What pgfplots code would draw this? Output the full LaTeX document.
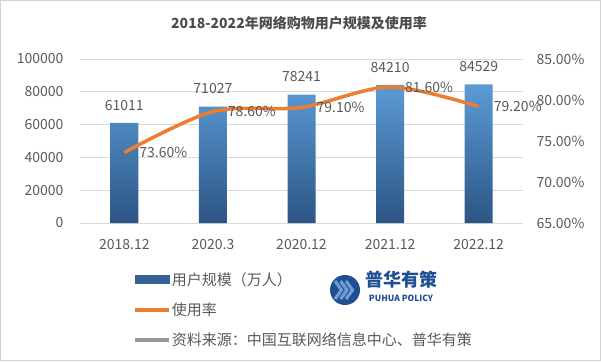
\documentclass[border=0pt]{standalone}
\usepackage{pgfplots}
\pgfplotsset{compat=1.18}
\usepackage{fontspec}
\setmainfont{Noto Sans CJK SC}
\definecolor{txt}{HTML}{595959}
\definecolor{gridc}{HTML}{D9D9D9}
\definecolor{barTop}{HTML}{5B9BD5}
\definecolor{barBot}{HTML}{2C5585}
\definecolor{orng}{HTML}{ED7D31}
\definecolor{logoc}{HTML}{1D4F91}
\newcommand{\fs}[1]{\fontsize{#1bp}{#1bp}\selectfont}
\begin{document}
\begin{tikzpicture}[x=1bp,y=1bp]
\useasboundingbox (0,0) rectangle (601,361);
\draw[color=gray!35, line width=1bp] (0.5,0.5) rectangle (600.5,360.5);
\node[font=\fs{14}\bfseries, text=black!70] at (299,338) {2018-2022年网络购物用户规模及使用率};
% logo
\fill[logoc] (345,71) circle (15);
\foreach \i in {0,1,2}{
  \draw[white!60!cyan!70!blue, line width=3.2bp, line cap=butt, line join=miter]
    (335+5.5*\i,80) -- (341.5+5.5*\i,71) -- (335+5.5*\i,62);
}
\node[font=\fs{18}\bfseries, text=logoc] at (401,81) {普华有策};
\node[font=\fs{8.5}\bfseries, text=logoc] at (401,63) {PUHUA POLICY};

\begin{axis}[
  at={(80bp,138bp)}, anchor=south west, scale only axis,
  width=443bp, height=164bp,
  xmin=-0.5, xmax=4.5, ymin=0, ymax=100000,
  ytick={0,20000,...,100000},
  xtick={0,...,4}, xticklabels={2018.12,2020.3,2020.12,2021.12,2022.12},
  axis line style={draw=none}, major tick length=0pt,
  ymajorgrids, grid style={gridc, line width=0.8bp},
  tick label style={font=\fs{14}, text=txt},
  yticklabel style={xshift=-13bp},
  xticklabel style={yshift=-13bp},
  /pgf/number format/assume math mode=true,
  /pgf/number format/fixed,
  /pgf/number format/1000 sep={},
  scaled y ticks=false,
  ybar, bar width=28bp,
  nodes near coords,
  every node near coord/.append style={font=\fs{14}, text=txt, yshift=9bp},
]
\addplot[draw=none, top color=barTop, bottom color=barBot]
  coordinates {(0,61011)(1,71027)(2,78241)(3,84210)(4,84529)};
\end{axis}

\begin{axis}[
  at={(80bp,138bp)}, anchor=south west, scale only axis,
  width=443bp, height=164bp,
  xmin=-0.5, xmax=4.5, ymin=65, ymax=85,
  ytick={65,70,...,85},
  axis y line*=right, hide x axis,
  axis line style={draw=none}, major tick length=0pt,
  tick label style={font=\fs{14}, text=txt},
  yticklabel style={xshift=10bp},
  /pgf/number format/assume math mode=true,
  yticklabel={\pgfmathprintnumber[fixed,fixed zerofill,precision=2]{\tick}\%},
  legend style={at={(axis description cs:0.113,-0.282)}, anchor=north west,
    draw=none, fill=none, font=\fs{15}, text=txt, row sep=14bp,
    nodes={inner sep=1bp}},
  legend cell align=left,
]
\addlegendimage{legend image code/.code={\fill[barBot!80!barTop] (0bp,-4bp) rectangle (34bp,4bp);}}
\addlegendentry{用户规模（万人）}
\addplot[orng, line width=3.5bp, smooth, tension=0.5,
  legend image code/.code={\draw[orng, line width=3.5bp] (0bp,0bp) -- (34bp,0bp);},
  nodes near coords={\pgfmathprintnumber[fixed,fixed zerofill,precision=2]{\pgfplotspointmeta}\%},
  every node near coord/.append style={font=\fs{14}, text=txt, anchor=west, xshift=10bp}]
  coordinates {(0,73.6)(1,78.6)(2,79.1)(3,81.6)(4,79.2)};
\addlegendentry{使用率}
\addlegendimage{legend image code/.code={\draw[black!40, line width=3.5bp] (0bp,0bp) -- (34bp,0bp);}}
\addlegendentry{资料来源：中国互联网络信息中心、普华有策}
\end{axis}
\end{tikzpicture}
\end{document}
